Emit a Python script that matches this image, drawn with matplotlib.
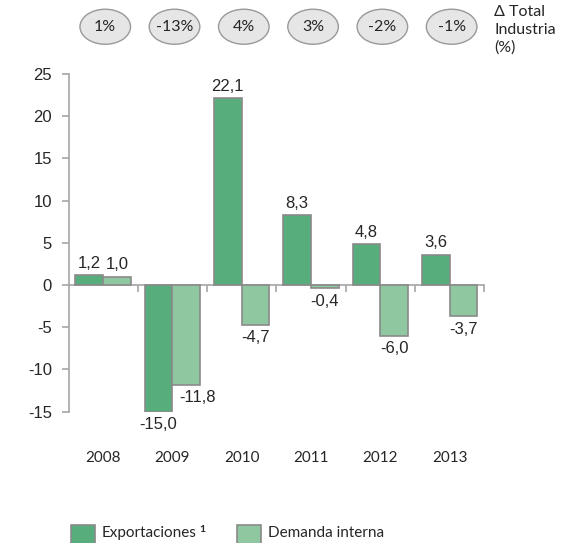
import numpy as np
import matplotlib.pyplot as plt
from matplotlib.patches import Ellipse, Rectangle
from matplotlib.transforms import blended_transform_factory

# --- datos ---
years = ['2008', '2009', '2010', '2011', '2012', '2013']
exportaciones = [1.2, -15.0, 22.1, 8.3, 4.8, 3.6]
demanda_interna = [1.0, -11.8, -4.7, -0.4, -6.0, -3.7]
total_industria = ['1%', '-13%', '4%', '3%', '-2%', '-1%']

# --- estilo ---
C_EXP = '#58ad7d'
C_DEM = '#8ec7a0'
C_EDGE = '#8a8a8a'
C_AXIS = '#a6a6a6'
C_TXT = '#262626'
FONT_NUM = 'Liberation Sans'
FONT_LBL = 'Lato'

fig = plt.figure(figsize=(5.64, 5.43), dpi=100)
ax = fig.add_axes([0.1215, 0.242, 0.737, 0.6217])

x = np.arange(len(years))
w = 0.40

ax.bar(x - w / 2, exportaciones, w, color=C_EXP, edgecolor=C_EDGE, linewidth=1.2, zorder=3)
ax.bar(x + w / 2, demanda_interna, w, color=C_DEM, edgecolor=C_EDGE, linewidth=1.2, zorder=3)

ax.set_xlim(-0.5, len(years) - 0.5)
ax.set_ylim(-15, 25)

# ejes: linea horizontal en cero, eje y a la izquierda
for s in ['top', 'right']:
    ax.spines[s].set_visible(False)
ax.spines['left'].set_color(C_AXIS)
ax.spines['left'].set_linewidth(1.2)
ax.spines['bottom'].set_position(('data', 0))
ax.spines['bottom'].set_color(C_AXIS)
ax.spines['bottom'].set_linewidth(1.2)

ax.set_yticks(np.arange(-15, 26, 5))
ax.set_yticklabels([str(v) for v in range(-15, 26, 5)], fontsize=12, family=FONT_NUM, color=C_TXT)
ax.tick_params(axis='y', direction='out', length=5, width=1.2, color=C_AXIS, pad=7)

# marcas entre categorias, hacia abajo desde el cero
ax.set_xticks(np.arange(0.5, len(years) - 0.5 + 0.01, 1.0))
ax.set_xticklabels([])
ax.tick_params(axis='x', direction='out', length=5, width=1.2, color=C_AXIS)

# etiquetas de años abajo del grafico
tr = blended_transform_factory(ax.transData, ax.transAxes)
for xi, yr in zip(x, years):
    ax.text(xi, -0.137, yr, transform=tr, ha='center', va='center',
            fontsize=11, family=FONT_LBL, color=C_TXT)

# valores sobre las barras
def fmt(v):
    return f'{v:.1f}'.replace('.', ',')

def label_bars(xs, vals, dx_list=None):
    for i, (xi, v) in enumerate(zip(xs, vals)):
        dx = dx_list[i] if dx_list else 0
        if v >= 0:
            ax.annotate(fmt(v), (xi, v), xytext=(dx, 3), textcoords='offset points',
                        ha='center', va='bottom', fontsize=12, family=FONT_NUM, color=C_TXT)
        else:
            ax.annotate(fmt(v), (xi, v), xytext=(dx, -4), textcoords='offset points',
                        ha='center', va='top', fontsize=12, family=FONT_NUM, color=C_TXT)

label_bars(x - w / 2, exportaciones)
label_bars(x + w / 2, demanda_interna, [0, 8, 0, 0, 0, 0])

# globos con la variacion total de la industria
for xi, t in zip(x, total_industria):
    e = Ellipse((xi + 0.03, 30.6), 0.73, 4.15, facecolor='#e6e6e6', edgecolor='#999999',
                linewidth=1.0, clip_on=False, zorder=4)
    ax.add_patch(e)
    ax.text(xi + 0.03, 30.6, t, ha='center', va='center', fontsize=11.5,
            family=FONT_LBL, color=C_TXT, clip_on=False, zorder=5)

fig.text(494 / 564, 1 - 5 / 543, '\u0394 Total\nIndustria\n(%)', ha='left', va='top',
         fontsize=11.5, family=[FONT_LBL, 'DejaVu Sans'], color=C_TXT, linespacing=1.35)

# leyenda manual al pie
W, H = 564, 543
legend_texts = []
for px, lab, col in [(71, 'Exportaciones', C_EXP), (237, 'Demanda interna', C_DEM)]:
    fig.patches.append(Rectangle((px / W, (H - 545) / H), 24 / W, 20 / H, transform=fig.transFigure,
                                 facecolor=col, edgecolor=C_EDGE, linewidth=1.2, figure=fig))
    legend_texts.append(fig.text((px + 31) / W, 1 - 533 / H, lab, ha='left', va='center',
                                 fontsize=11, family=FONT_LBL, color=C_TXT))
# nota al pie de exportaciones, pegada al final del texto
fig.canvas.draw()
ax.annotate('1', xy=(1, 0.75), xycoords=legend_texts[0], xytext=(1.5, 0),
            textcoords='offset points', ha='left', va='center', fontsize=7.5,
            family=FONT_LBL, weight='bold', color=C_TXT, annotation_clip=False)

fig.savefig('out.png', dpi=100)
